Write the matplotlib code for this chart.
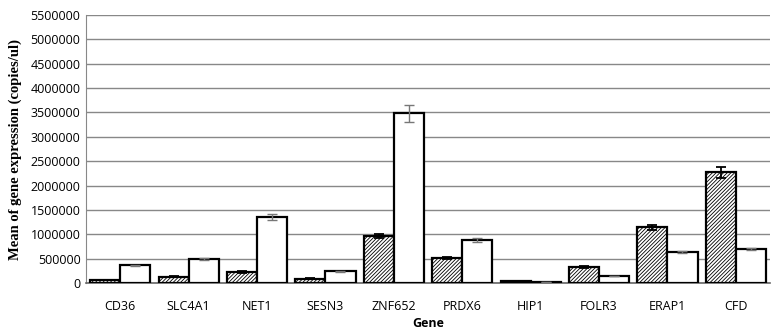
import numpy as np
import matplotlib.pyplot as plt
from matplotlib.transforms import ScaledTranslation

genes = ["CD36", "SLC4A1", "NET1", "SESN3", "ZNF652", "PRDX6", "HIP1", "FOLR3", "ERAP1", "CFD"]
hatched_vals = [62000, 130000, 225000, 89000, 962000, 512000, 34000, 328000, 1140000, 2273000]
hatched_err = [8000, 10000, 12000, 8000, 45000, 20000, 4000, 15000, 55000, 110000]
white_vals = [362000, 490000, 1358000, 239000, 3481000, 880000, 14000, 143000, 628000, 703000]
white_err = [10000, 18000, 65000, 6000, 170000, 35000, 2000, 6000, 20000, 25000]
yticks = np.arange(0, 5500001, 500000)

# Excel put the category labels a bit off-centre
label_shift_px = [13, 1, 9, -1, 9, 10, 0, 8, 9, 11]

plt.rcParams['hatch.color'] = '#2a2a2a'
plt.rcParams['hatch.linewidth'] = 0.6

fig = plt.figure(figsize=(7.77, 3.34), dpi=100)
ax = fig.add_axes([0.1107, 0.1527, 0.8803, 0.8023])

x = np.arange(len(genes))
w = 0.44
ax.bar(x - w/2, hatched_vals, w, color='white', edgecolor='black', linewidth=1.6,
       hatch='/////////', zorder=3)
ax.bar(x + w/2, white_vals, w, color='white', edgecolor='black', linewidth=1.6, zorder=3)
ax.errorbar(x - w/2, hatched_vals, yerr=hatched_err, fmt='none', ecolor='black',
            elinewidth=1.3, capsize=3.5, capthick=1.3, zorder=4)
ax.errorbar(x + w/2, white_vals, yerr=white_err, fmt='none', ecolor='#777777',
            elinewidth=1.0, capsize=3.5, capthick=1.0, zorder=4)

ax.set_xlim(-0.5, len(genes) - 0.5)
ax.set_ylim(0, 5500000)
ax.set_yticks(yticks)
ax.set_yticklabels([str(v) for v in yticks], family='Open Sans', fontsize=9)
ax.set_xticks(x)
ax.set_xticklabels(genes, family='Open Sans', fontsize=9)
for lab, dx in zip(ax.get_xticklabels(), label_shift_px):
    lab.set_transform(lab.get_transform() + ScaledTranslation(dx / 100, 0, fig.dpi_scale_trans))
ax.tick_params(axis='both', length=0)
ax.tick_params(axis='x', pad=12)
ax.tick_params(axis='y', pad=4)

ax.grid(axis='y', color='#888888', linewidth=1.0, zorder=0)
ax.set_axisbelow(True)
for s in ['top', 'right']:
    ax.spines[s].set_visible(False)
ax.spines['left'].set_color('#888888')
ax.spines['bottom'].set_color('#666666')
ax.spines['bottom'].set_linewidth(1.2)

ax.set_ylabel("Mean of gene expression (copies/ul)", family='Liberation Serif',
              fontweight='bold', fontsize=10.5, labelpad=6)
ax.set_xlabel("Gene", family='Open Sans', fontweight='bold', fontsize=9, labelpad=3)

plt.savefig("out.png", dpi=100)
